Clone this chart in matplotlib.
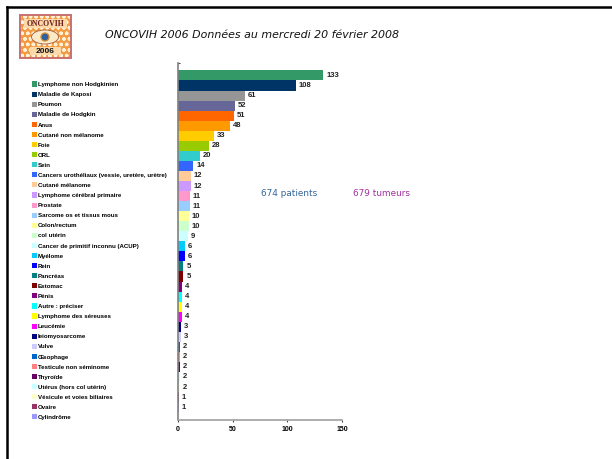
import matplotlib
matplotlib.use('Agg')
import matplotlib.pyplot as plt
from matplotlib.patches import Rectangle, Ellipse

W, H = 612, 459

categories = ["Lymphome non Hodgkinien", "Maladie de Kaposi", "Poumon", "Maladie de Hodgkin",
              "Anus", "Cutané non mélanome", "Foie", "ORL", "Sein",
              "Cancers urothéliaux (vessie, uretère, urètre)", "Cutané mélanome",
              "Lymphome cérébral primaire", "Prostate", "Sarcome os et tissus mous",
              "Colon/rectum", "col utérin", "Cancer de primitif inconnu (ACUP)", "Myélome",
              "Rein", "Pancréas", "Estomac", "Pénis", "Autre : préciser",
              "Lymphome des séreuses", "Leucémie", "leiomyosarcome", "Vulve", "Œsophage",
              "Testicule non séminome", "Thyroïde", "Utérus (hors col utérin)",
              "Vésicule et voies biliaires", "Ovaire", "Cylindrôme"]
values = [133, 108, 61, 52, 51, 48, 33, 28, 20, 14, 12, 12, 11, 11, 10, 10, 9,
          6, 6, 5, 5, 4, 4, 4, 4, 3, 3, 2, 2, 2, 2, 2, 1, 1]
colors = ['#339966', '#003366', '#969696', '#666699', '#ff6600', '#ff9900', '#ffcc00',
          '#99cc00', '#33cccc', '#3366ff', '#ffcc99', '#cc99ff', '#ff99cc', '#99ccff',
          '#ffff99', '#ccffcc', '#ccffff', '#00ccff', '#0000ff', '#008080', '#800000',
          '#800080', '#00ffff', '#ffff00', '#ff00ff', '#000080', '#ccccff', '#0066cc',
          '#ff8080', '#660066', '#ccffff', '#ffffcc', '#993366', '#9999ff']
xticks = [0, 50, 100, 150]

fig = plt.figure(figsize=(W / 100, H / 100), dpi=100)
plt.rcParams['font.family'] = 'Liberation Sans'

# page frame
fig.add_artist(plt.Line2D([7 / W, 7 / W], [0, 1 - 7 / H], color='black', lw=1.8))
fig.add_artist(plt.Line2D([7 / W, 1], [1 - 7 / H, 1 - 7 / H], color='black', lw=1.8))

ax = fig.add_axes([178 / W, 1 - 420 / H, (342 - 178) / W, (420 - 63) / H])
y = list(range(len(values)))
bars = ax.barh(y, values, height=1.0, color=colors, label='_nolegend_')
ax.bar_label(bars, padding=2, fontsize=5.5, fontweight='bold', color='#222222')
ax.set_xlim(0, 150)
ax.set_ylim(34.28, -1.24)
ax.set_xticks(xticks)
ax.set_yticks([ax.get_ylim()[1]], [''])
ax.tick_params(axis='x', labelsize=5, length=1.5, width=0.8, pad=3, color='#444444')
for lab in ax.get_xticklabels():
    lab.set_fontweight('bold')
ax.tick_params(axis='y', length=1.5, width=0.8, direction='in', color='#444444')
ax.spines['top'].set_visible(False)
ax.spines['right'].set_visible(False)
ax.spines['left'].set_color('#808080')
ax.spines['bottom'].set_color('#a0a0a0')
ax.spines['left'].set_linewidth(1.2)
ax.spines['bottom'].set_linewidth(1.2)

ax.legend(bars, categories, loc='upper left', bbox_to_anchor=(32 / W, 1 - 81.5 / H),
          bbox_transform=fig.transFigure, frameon=False,
          prop={'weight': 'bold', 'size': 4.45}, handlelength=0.8, handleheight=0.9,
          handletextpad=0.15, labelspacing=0.71, borderpad=0, borderaxespad=0)

fig.text(105 / W, 1 - 35 / H, "ONCOVIH 2006 Données au mercredi 20 février 2008",
         fontsize=7.9, style='italic', family='DejaVu Sans', va='center', color='#111111')
fig.text(261 / W, 1 - 194 / H, "674 patients", fontsize=6.4, family='DejaVu Sans',
         va='center', color='#336699')
fig.text(353 / W, 1 - 194 / H, "679 tumeurs", fontsize=6.4, family='DejaVu Sans',
         va='center', color='#a030a0')

# logo
logo = fig.add_axes([20 / W, 1 - 58 / H, 51 / W, 43 / H])
logo.set_xlim(0, 51)
logo.set_ylim(43, 0)
logo.axis('off')
logo.add_patch(Rectangle((0, 0), 51, 43, fc='#f59a40', ec='none'))
logo.add_patch(Rectangle((0, 0), 51, 43, fc='none', ec='#fff0d8', hatch='ooo', lw=0))
logo.add_patch(Rectangle((4, 4), 43, 9, fc='#fbd9a8', ec='none'))
logo.add_patch(Rectangle((10, 32), 31, 8, fc='#fbd9a8', ec='none'))
logo.add_patch(Ellipse((25, 22), 27, 14, fc='#fde8c8', ec='#a06040', lw=0.6))
logo.add_patch(Ellipse((25, 22), 8, 8, fc='#3060a0', ec='#d09030', lw=0.9))
logo.add_patch(Rectangle((0, 0), 51, 43, fc='none', ec='#c87070', lw=1.4, clip_on=False))
logo.text(25.5, 8.5, "ONCOVIH", fontsize=5.6, fontweight='bold', family='Liberation Serif',
          color='#702020', ha='center', va='center')
logo.text(25.5, 36.5, "2006", fontsize=6, fontweight='bold', color='#111111', ha='center', va='center')

fig.savefig('out.png', dpi=100)
